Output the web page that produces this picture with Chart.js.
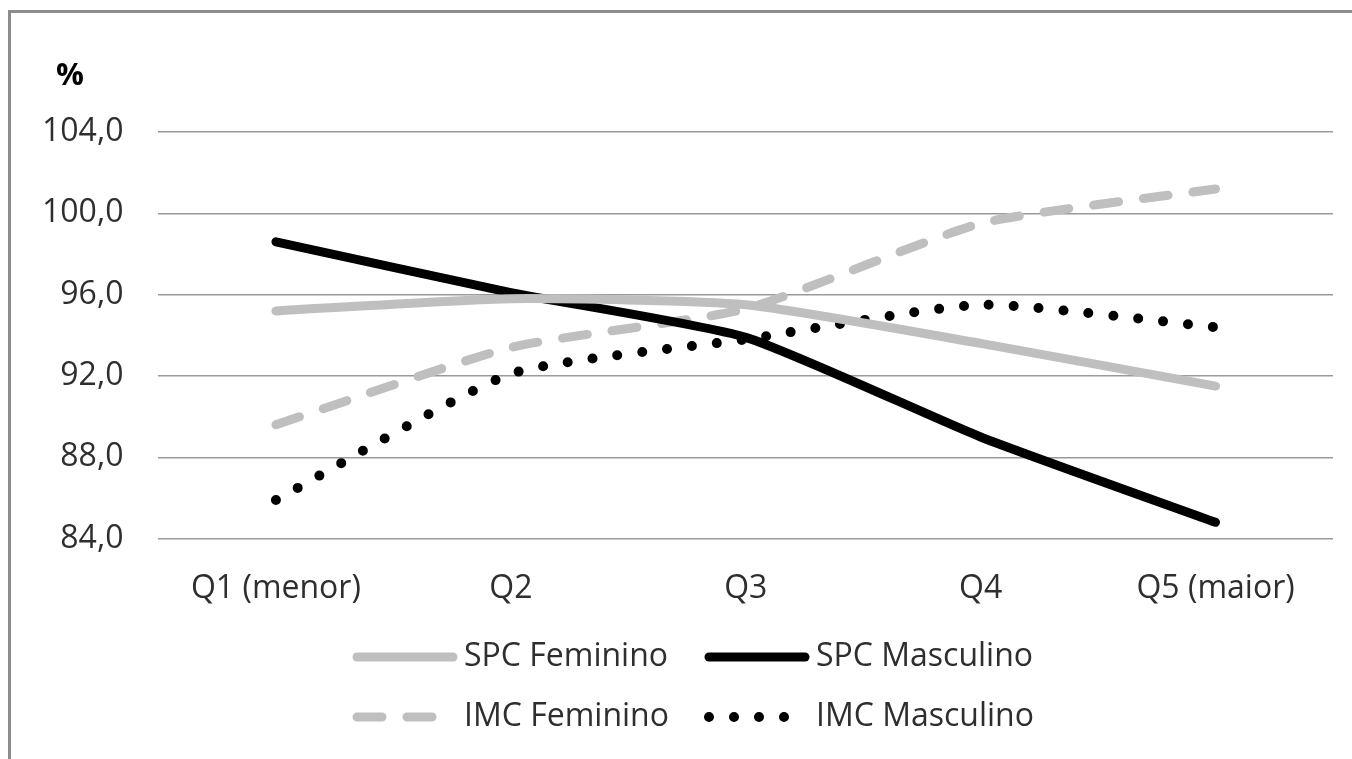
<!DOCTYPE html>
<html>
<head>
<meta charset="utf-8">
<script src="https://cdn.jsdelivr.net/npm/chart.js@4/dist/chart.umd.min.js"></script>
<style>
    body { margin: 0; overflow: hidden; background: #fff; }
    .frame {
        position: absolute; left: 8px; top: 10px; width: 2000px; height: 2000px;
        border-left: 3px solid #8c8c8c; border-top: 3px solid #8c8c8c;
    }
    .chart-box { position: absolute; left: 0; top: 0; width: 1352px; height: 759px; }
</style>
</head>
<body>
<div class="frame"></div>
<div class="chart-box"><canvas id="graph"></canvas></div>
<script>
//categories and series
const quintis = ["Q1 (menor)", "Q2", "Q3", "Q4", "Q5 (maior)"];
const spcFeminino = [95.2, 95.8, 95.5, 93.6, 91.5];
const spcMasculino = [98.6, 96.1, 93.9, 89.0, 84.8];
const imcFeminino = [89.6, 93.4, 95.3, 99.5, 101.2];
const imcMasculino = [85.9, 92.1, 93.8, 95.5, 94.4];
const yTicks = [84, 88, 92, 96, 100, 104];

const fontFamily = "'Open Sans', 'Liberation Sans', sans-serif";
const textColor = '#2e2e2e';

//legend drawn in two columns, like the original
const gridLegend = {
    id: 'gridLegend',
    afterDraw(chart) {
        const ctx = chart.ctx;
        const cols = [352, 704];
        const rows = [657, 717];
        ctx.save();
        chart.data.datasets.forEach((ds, i) => {
            const x0 = cols[i % 2];
            const y = rows[Math.floor(i / 2)];
            ctx.beginPath();
            ctx.strokeStyle = ds.borderColor;
            ctx.lineWidth = ds.borderWidth;
            ctx.lineCap = 'round';
            ctx.setLineDash(ds.borderDash || []);
            ctx.moveTo(x0 + 5, y);
            ctx.lineTo(x0 + 101, y);
            ctx.stroke();
            ctx.setLineDash([]);
            ctx.fillStyle = textColor;
            ctx.font = "32px " + fontFamily;
            ctx.textBaseline = 'middle';
            ctx.textAlign = 'left';
            ctx.fillText(ds.label, x0 + 112, y);
        });
        //the % sign over the y axis
        ctx.fillStyle = '#000';
        ctx.font = "bold 31px " + fontFamily;
        ctx.fillText('%', 56, 76);
        ctx.restore();
    }
};

const graph = document.getElementById("graph");

new Chart(graph, {
    type: 'line',
    data: {
        labels: quintis,
        datasets: [
            {
                label: 'SPC Feminino',
                data: spcFeminino,
                borderColor: '#bfbfbf',
                borderWidth: 9,
                borderCapStyle: 'round',
                borderJoinStyle: 'round',
                tension: 0.18,
                pointRadius: 0
            },
            {
                label: 'SPC Masculino',
                data: spcMasculino,
                borderColor: '#000000',
                borderWidth: 9,
                borderCapStyle: 'round',
                borderJoinStyle: 'round',
                tension: 0.18,
                pointRadius: 0
            },
            {
                label: 'IMC Feminino',
                data: imcFeminino,
                borderColor: '#bfbfbf',
                borderWidth: 9,
                borderDash: [25, 25],
                borderCapStyle: 'round',
                borderJoinStyle: 'round',
                tension: 0.18,
                pointRadius: 0
            },
            {
                label: 'IMC Masculino',
                data: imcMasculino,
                borderColor: '#000000',
                borderWidth: 10,
                borderDash: [0, 25],
                borderCapStyle: 'round',
                borderJoinStyle: 'round',
                tension: 0.18,
                pointRadius: 0
            }
        ]
    },
    options: {
        responsive: true,
        maintainAspectRatio: false,
        animation: false,
        layout: {
            padding: { left: 7, right: 19, top: 132, bottom: 120 }
        },
        plugins: {
            legend: { display: false },
            tooltip: { enabled: false }
        },
        scales: {
            x: {
                offset: true,
                grid: { display: false, drawTicks: false },
                border: { display: false },
                ticks: {
                    padding: 31,
                    color: textColor,
                    maxRotation: 0,
                    autoSkip: false,
                    font: { family: fontFamily, size: 32 }
                }
            },
            y: {
                min: 84,
                max: 104,
                afterBuildTicks: (axis) => {
                    axis.ticks = yTicks.map(v => ({ value: v }));
                },
                grid: { color: '#9a9a9a', lineWidth: 1.5, drawTicks: false },
                border: { display: false },
                ticks: {
                    padding: 35,
                    color: textColor,
                    font: { family: fontFamily, size: 32 },
                    callback: (v) => v.toFixed(1).replace('.', ',')
                }
            }
        }
    },
    plugins: [gridLegend]
});
</script>
</body>
</html>
